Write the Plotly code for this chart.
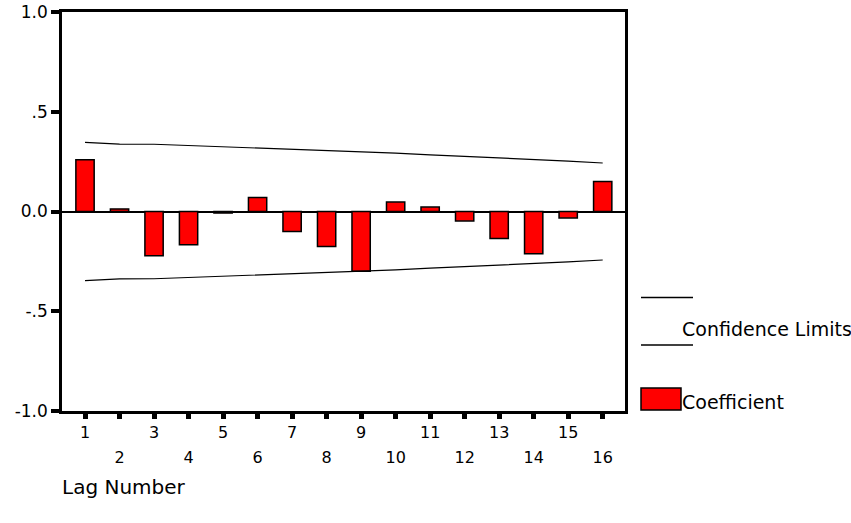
import plotly.graph_objects as go

lags = list(range(1, 17))
coefficient = [0.259, 0.013, -0.222, -0.167, -0.008, 0.070, -0.100, -0.175,
               -0.300, 0.047, 0.022, -0.047, -0.135, -0.212, -0.032, 0.150]
upper_limit = [0.346, 0.338, 0.337, 0.331, 0.325, 0.318, 0.312, 0.306,
               0.301, 0.293, 0.284, 0.277, 0.269, 0.261, 0.253, 0.243]
lower_limit = [-v for v in upper_limit]
y_tickvals = [-1.0, -0.5, 0.0, 0.5, 1.0]
y_ticktext = ["-1.0", "-.5", "0.0", ".5", "1.0"]
even_lags = [v for v in lags if v % 2 == 0]

W, H = 851, 523
L, R, T, B = 62, 226, 12, 112
PW, PH = W - L - R, H - T - B
FONT = "DejaVu Sans"


def px(x):
    return (x - L) / PW


def py(y):
    return (H - B - y) / PH


fig = go.Figure()
fig.add_trace(go.Bar(x=lags, y=coefficient, width=0.53,
                     marker=dict(color="#FF0000", line=dict(color="black", width=1.5)),
                     showlegend=False))
fig.add_trace(go.Scatter(x=lags, y=upper_limit, mode="lines",
                         line=dict(color="black", width=1.2), showlegend=False))
fig.add_trace(go.Scatter(x=lags, y=lower_limit, mode="lines",
                         line=dict(color="black", width=1.2), showlegend=False))
# invisible trace to carry the second (even-label) x axis
fig.add_trace(go.Scatter(x=even_lags, y=[0] * len(even_lags), xaxis="x2",
                         mode="markers", marker=dict(opacity=0), showlegend=False,
                         hoverinfo="skip"))

xrange = [0.333, 16.646]
fig.update_layout(
    width=W, height=H,
    margin=dict(l=L, r=R, t=T, b=B),
    paper_bgcolor="white", plot_bgcolor="white",
    font=dict(family=FONT, color="black", size=16),
    xaxis=dict(range=xrange, tickvals=lags,
               ticktext=[str(v) if v % 2 == 1 else "" for v in lags],
               ticks="outside", ticklen=5, tickwidth=5, tickcolor="black",
               showline=True, linewidth=2.5, linecolor="black", mirror=True,
               showgrid=False, zeroline=False, ticklabelstandoff=0,
               automargin=False, tickfont=dict(size=16, family=FONT)),
    xaxis2=dict(range=xrange, overlaying="x", side="bottom", anchor="y",
                tickvals=even_lags, ticktext=[str(v) for v in even_lags],
                ticks="", showline=False, showgrid=False, zeroline=False,
                automargin=False, ticklabelstandoff=35,
                tickfont=dict(size=16, family=FONT)),
    yaxis=dict(range=[-1, 1], tickvals=y_tickvals, ticktext=y_ticktext,
               ticks="outside", ticklen=8, tickwidth=3.5, tickcolor="black",
               showline=True, linewidth=2.5, linecolor="black", mirror=True,
               showgrid=False, zeroline=True, zerolinecolor="black", zerolinewidth=1.5,
               automargin=False, tickfont=dict(size=17, family=FONT),
               ticklabelstandoff=0),
)

# custom legend
shapes = [
    dict(type="line", xref="paper", yref="paper", x0=px(641), x1=px(693),
         y0=py(297.5), y1=py(297.5), line=dict(color="black", width=1.3)),
    dict(type="line", xref="paper", yref="paper", x0=px(641), x1=px(693),
         y0=py(345), y1=py(345), line=dict(color="black", width=1.3)),
    dict(type="rect", xref="paper", yref="paper", x0=px(641), x1=px(681),
         y0=py(410), y1=py(388), fillcolor="#FF0000",
         line=dict(color="black", width=1.5)),
]
fig.update_layout(shapes=shapes)
fig.add_annotation(xref="paper", yref="paper", x=px(680), y=py(329),
                   text="Confidence Limits", showarrow=False, xanchor="left",
                   yanchor="middle", font=dict(size=19, family=FONT))
fig.add_annotation(xref="paper", yref="paper", x=px(680), y=py(402),
                   text="Coefficient", showarrow=False, xanchor="left",
                   yanchor="middle", font=dict(size=19, family=FONT))
fig.add_annotation(xref="paper", yref="paper", x=px(60), y=py(487),
                   text="Lag Number", showarrow=False, xanchor="left",
                   yanchor="middle", font=dict(size=20, family=FONT))

fig.write_html("out.html", config={"displayModeBar": False},
               post_script="document.body.style.margin='0';")
